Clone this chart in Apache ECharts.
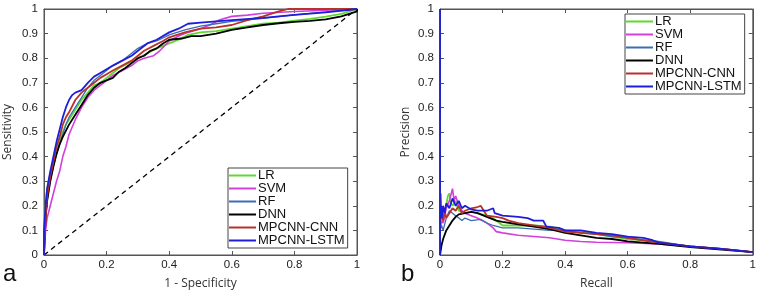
<!DOCTYPE html>
<html><head><meta charset="utf-8">
<script src="https://cdn.jsdelivr.net/npm/echarts@6/dist/echarts.min.js"></script>
<style>html,body{margin:0;padding:0;background:#fff}#c{width:759px;height:295px}</style>
</head><body><div id="c"></div>
<script>
const seriesNames = ['LR','SVM','RF','DNN','MPCNN-CNN','MPCNN-LSTM'];
const ticks = [0,0.1,0.2,0.3,0.4,0.5,0.6,0.7,0.8,0.9,1];

const rocLR = [[0,0],[0,0.1],[0.005,0.2],[0.01,0.27],[0.02,0.33],[0.03,0.38],[0.04,0.43],[0.05,0.47],[0.06,0.5],[0.07,0.53],[0.08,0.55],[0.1,0.59],[0.12,0.63],[0.14,0.66],[0.16,0.69],[0.18,0.7],[0.2,0.72],[0.22,0.74],[0.24,0.76],[0.27,0.78],[0.3,0.8],[0.33,0.82],[0.36,0.84],[0.38,0.85],[0.4,0.86],[0.43,0.875],[0.46,0.895],[0.5,0.905],[0.55,0.91],[0.6,0.92],[0.65,0.93],[0.7,0.94],[0.75,0.945],[0.8,0.953],[0.85,0.96],[0.9,0.969],[0.95,0.98],[1,1]];
const rocSVM = [[0,0],[0.005,0.1],[0.01,0.15],[0.02,0.2],[0.03,0.25],[0.04,0.3],[0.05,0.34],[0.06,0.4],[0.07,0.44],[0.08,0.49],[0.1,0.55],[0.12,0.6],[0.14,0.64],[0.16,0.67],[0.18,0.69],[0.2,0.71],[0.22,0.73],[0.25,0.75],[0.28,0.77],[0.3,0.79],[0.32,0.8],[0.35,0.81],[0.37,0.83],[0.4,0.87],[0.43,0.89],[0.46,0.905],[0.5,0.92],[0.53,0.935],[0.56,0.955],[0.6,0.97],[0.65,0.975],[0.7,0.983],[0.8,0.99],[0.9,0.995],[1,1]];
const rocRF = [[0,0],[0.005,0.15],[0.01,0.22],[0.02,0.3],[0.03,0.36],[0.04,0.41],[0.05,0.45],[0.06,0.49],[0.07,0.53],[0.08,0.56],[0.1,0.6],[0.12,0.64],[0.14,0.68],[0.16,0.71],[0.18,0.73],[0.2,0.75],[0.22,0.77],[0.25,0.79],[0.28,0.82],[0.3,0.84],[0.33,0.86],[0.36,0.87],[0.4,0.895],[0.45,0.915],[0.5,0.93],[0.55,0.94],[0.6,0.95],[0.7,0.962],[0.8,0.976],[0.9,0.988],[1,1]];
const rocDNN = [[0,0],[0.005,0.15],[0.01,0.22],[0.02,0.3],[0.03,0.36],[0.04,0.41],[0.05,0.45],[0.06,0.48],[0.08,0.53],[0.1,0.57],[0.12,0.61],[0.14,0.65],[0.16,0.68],[0.18,0.7],[0.2,0.71],[0.22,0.72],[0.24,0.745],[0.26,0.76],[0.28,0.78],[0.3,0.8],[0.32,0.81],[0.34,0.83],[0.36,0.84],[0.38,0.86],[0.4,0.875],[0.44,0.88],[0.47,0.89],[0.5,0.89],[0.55,0.9],[0.6,0.915],[0.65,0.925],[0.7,0.935],[0.75,0.942],[0.8,0.948],[0.85,0.952],[0.9,0.958],[0.95,0.97],[1,0.99],[1,1]];
const rocCNN = [[0,0],[0.005,0.15],[0.01,0.24],[0.02,0.32],[0.03,0.38],[0.04,0.44],[0.05,0.48],[0.06,0.53],[0.07,0.56],[0.08,0.58],[0.1,0.63],[0.12,0.66],[0.14,0.68],[0.16,0.7],[0.18,0.72],[0.2,0.735],[0.22,0.75],[0.25,0.77],[0.28,0.79],[0.3,0.81],[0.32,0.83],[0.35,0.85],[0.38,0.87],[0.4,0.885],[0.45,0.905],[0.5,0.92],[0.55,0.925],[0.6,0.935],[0.65,0.955],[0.7,0.97],[0.75,0.99],[0.78,1],[1,1]];
const rocLSTM = [[0,0],[0,0.1],[0.005,0.2],[0.01,0.27],[0.02,0.34],[0.03,0.4],[0.04,0.46],[0.05,0.51],[0.06,0.56],[0.07,0.6],[0.08,0.63],[0.09,0.65],[0.1,0.66],[0.12,0.67],[0.14,0.7],[0.16,0.725],[0.18,0.74],[0.2,0.755],[0.22,0.77],[0.25,0.79],[0.28,0.81],[0.3,0.83],[0.33,0.86],[0.36,0.875],[0.4,0.905],[0.43,0.92],[0.46,0.94],[0.5,0.945],[0.55,0.95],[0.6,0.955],[0.7,0.964],[0.8,0.976],[0.9,0.986],[1,1]];
const rocChance = [[0,0],[1,1]];

const prLR = [[0,0.13],[0.005,0.18],[0.01,0.15],[0.02,0.2],[0.025,0.24],[0.03,0.25],[0.035,0.21],[0.04,0.2],[0.05,0.22],[0.06,0.18],[0.08,0.17],[0.1,0.175],[0.12,0.17],[0.15,0.16],[0.17,0.15],[0.19,0.13],[0.2,0.12],[0.25,0.12],[0.3,0.12],[0.35,0.115],[0.4,0.1],[0.45,0.095],[0.5,0.085],[0.55,0.075],[0.6,0.065],[0.65,0.06],[0.7,0.05],[0.8,0.035],[0.9,0.025],[1,0.012]];
const prSVM = [[0,0.1],[0.005,0.14],[0.01,0.13],[0.02,0.19],[0.03,0.22],[0.04,0.27],[0.045,0.22],[0.05,0.24],[0.06,0.2],[0.07,0.18],[0.08,0.17],[0.1,0.16],[0.12,0.15],[0.15,0.13],[0.17,0.11],[0.18,0.095],[0.2,0.09],[0.25,0.08],[0.3,0.075],[0.35,0.07],[0.4,0.06],[0.45,0.055],[0.5,0.052],[0.6,0.05],[0.7,0.045],[0.8,0.035],[0.9,0.025],[1,0.012]];
const prRF = [[0,0.1],[0.005,0.12],[0.01,0.1],[0.02,0.15],[0.03,0.18],[0.04,0.17],[0.05,0.16],[0.06,0.15],[0.07,0.14],[0.08,0.15],[0.1,0.14],[0.13,0.145],[0.15,0.13],[0.17,0.12],[0.2,0.11],[0.25,0.11],[0.3,0.105],[0.35,0.1],[0.4,0.1],[0.45,0.09],[0.5,0.085],[0.55,0.075],[0.6,0.07],[0.65,0.06],[0.7,0.055],[0.8,0.035],[0.9,0.025],[1,0.012]];
const prDNN = [[0,0],[0.005,0.04],[0.01,0.065],[0.02,0.1],[0.03,0.12],[0.04,0.14],[0.05,0.155],[0.06,0.165],[0.08,0.17],[0.1,0.175],[0.12,0.17],[0.14,0.16],[0.16,0.15],[0.18,0.14],[0.2,0.135],[0.25,0.125],[0.3,0.115],[0.35,0.105],[0.4,0.09],[0.45,0.08],[0.5,0.07],[0.55,0.065],[0.6,0.055],[0.7,0.045],[0.8,0.032],[0.9,0.022],[1,0.012]];
const prCNN = [[0,0.12],[0.002,0.25],[0.005,0.15],[0.01,0.14],[0.015,0.18],[0.02,0.15],[0.03,0.17],[0.04,0.19],[0.05,0.18],[0.06,0.2],[0.07,0.17],[0.08,0.18],[0.1,0.19],[0.12,0.195],[0.13,0.2],[0.14,0.18],[0.15,0.16],[0.18,0.155],[0.2,0.15],[0.22,0.14],[0.25,0.13],[0.3,0.12],[0.33,0.115],[0.35,0.11],[0.4,0.095],[0.45,0.09],[0.5,0.085],[0.55,0.08],[0.6,0.07],[0.65,0.06],[0.7,0.05],[0.8,0.035],[0.9,0.025],[1,0.012]];
const prLSTM = [[0,0],[0,1],[0,0.15],[0.003,0.2],[0.006,0.15],[0.01,0.2],[0.015,0.17],[0.02,0.21],[0.03,0.19],[0.04,0.23],[0.05,0.2],[0.06,0.22],[0.07,0.19],[0.08,0.2],[0.1,0.185],[0.12,0.18],[0.15,0.18],[0.17,0.19],[0.175,0.17],[0.2,0.16],[0.25,0.155],[0.28,0.15],[0.3,0.14],[0.33,0.14],[0.34,0.115],[0.38,0.11],[0.4,0.1],[0.45,0.1],[0.5,0.09],[0.55,0.085],[0.6,0.075],[0.65,0.07],[0.68,0.06],[0.7,0.05],[0.8,0.035],[0.9,0.025],[1,0.012]];

const colors = ['#5fd92f','#d23fdc','#3c6db3','#000000','#b8322a','#1e1ed8'];
const widths = [1.8,1.6,1.3,1.8,1.8,1.8];
const rocData = [rocLR,rocSVM,rocRF,rocDNN,rocCNN,rocLSTM];
const prData = [prLR,prSVM,prRF,prDNN,prCNN,prLSTM];

const FONT = 'Liberation Sans, Arial, sans-serif';
const NAMEFONT = 'Open Sans, sans-serif';
const AX = '#555';

function mainX(gi, name){
  return {type:'value', gridIndex:gi, min:0, max:1, interval:0.2, position:'bottom',
    name:name, nameLocation:'middle', nameGap:23,
    nameTextStyle:{fontFamily:NAMEFONT, fontSize:12, color:'#333'},
    axisLine:{lineStyle:{color:AX}}, axisTick:{inside:true, length:4, lineStyle:{color:AX}},
    axisLabel:{fontFamily:FONT, fontSize:11.5, color:'#222', margin:4, formatter:v=>String(+v.toFixed(1))},
    splitLine:{show:false}};
}
function mainY(gi, name, gap){
  return {type:'value', gridIndex:gi, min:0, max:1, interval:0.1, position:'left',
    name:name, nameLocation:'middle', nameGap:gap,
    nameTextStyle:{fontFamily:NAMEFONT, fontSize:12, color:'#333'},
    axisLine:{lineStyle:{color:AX}}, axisTick:{inside:true, length:4, lineStyle:{color:AX}},
    axisLabel:{fontFamily:FONT, fontSize:11.5, color:'#222', margin:6, formatter:v=>String(+v.toFixed(1))},
    splitLine:{show:false}};
}
function sideX(gi){
  return {type:'value', gridIndex:gi, min:0, max:1, interval:0.2, position:'top',
    axisLine:{show:true, onZero:false, lineStyle:{color:AX}}, axisTick:{inside:true, length:4, lineStyle:{color:AX}},
    axisLabel:{show:false}, splitLine:{show:false}};
}
function sideY(gi){
  return {type:'value', gridIndex:gi, min:0, max:1, interval:0.1, position:'right',
    axisLine:{show:true, onZero:false, lineStyle:{color:AX}}, axisTick:{inside:true, length:4, lineStyle:{color:AX}},
    axisLabel:{show:false}, splitLine:{show:false}};
}

const series = [];
series.push({type:'line', name:'chance', xAxisIndex:0, yAxisIndex:0, data:rocChance, symbol:'none',
  lineStyle:{color:'#000', width:1.3, type:[5,4]}, silent:true, z:1});
seriesNames.forEach((n,i)=>{
  series.push({type:'line', name:n, xAxisIndex:0, yAxisIndex:0, data:rocData[i], symbol:'none',
    color:colors[i], lineStyle:{color:colors[i], width:widths[i]}, z:2+i});
});
seriesNames.forEach((n,i)=>{
  series.push({type:'line', name:n, xAxisIndex:2, yAxisIndex:2, data:prData[i], symbol:'none',
    color:colors[i], lineStyle:{color:colors[i], width:widths[i]}, z:2+i});
});

function legend(left, top){
  return {data:seriesNames, orient:'vertical', left:left, top:top, icon:'rect', itemWidth:27, itemHeight:2,
    itemGap:0, padding:[1,3,1,1], backgroundColor:'#fff', borderColor:'#444', borderWidth:1, borderRadius:0,
    selectedMode:false,
    textStyle:{fontFamily:FONT, fontSize:13, color:'#111', lineHeight:13, padding:[0,0,0,-3]}};
}

const option = {
  animation:false,
  backgroundColor:'#fff',
  grid:[{left:44, top:9, width:313, height:246, show:true, borderColor:AX, borderWidth:1},
        {left:440, top:9, width:314, height:246, show:true, borderColor:AX, borderWidth:1}],
  xAxis:[mainX(0,'1 - Specificity'), sideX(0), mainX(1,'Recall'), sideX(1)],
  yAxis:[mainY(0,'Sensitivity',30), sideY(0), mainY(1,'Precision',28), sideY(1)],
  legend:[legend(228,168), legend(625,14)],
  series:series,
  graphic:[
    {type:'text', left:3, top:262, style:{text:'a', font:'24px Liberation Sans, Arial', fill:'#111'}},
    {type:'text', left:401, top:262, style:{text:'b', font:'24px Liberation Sans, Arial', fill:'#111'}}
  ]
};
const chart = echarts.init(document.getElementById('c'), null, {renderer:'canvas'});
chart.setOption(option);
</script></body></html>
